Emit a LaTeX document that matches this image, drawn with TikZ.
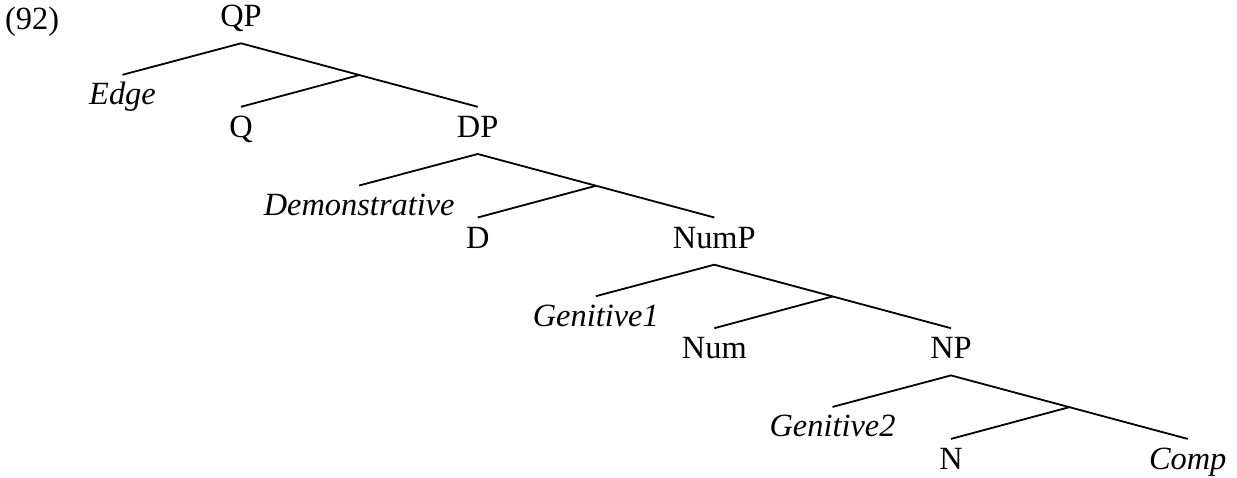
\documentclass[tikz,border=0pt]{standalone}
\usepackage{fontspec}
\setmainfont{Liberation Serif}
\usetikzlibrary{calc}
\begin{document}
\begin{tikzpicture}[x=1pt,y=-1pt,
  branch/.style={line width=1.8pt},
  lbl/.style={anchor=base,inner sep=0pt,font=\fontsize{32.4}{38}\selectfont},
  ilbl/.style={lbl,font=\fontsize{32.4}{38}\selectfont\itshape}]
\useasboundingbox (0,0) rectangle (1237,477);

% example number
\node[lbl,anchor=base west] (exnum) at (5,29) {(92)};

% one binary-branching layer per phrase: specifier on the left,
% head and complement under the intermediate branch point
\foreach \n/\x/\y/\phr/\spec/\head in {
    q/241/43.3/QP/Edge/Q,
    d/477.7/154/DP/Demonstrative/D,
    num/714.3/264.7/NumP/Genitive1/Num,
    n/951/375.4/NP/Genitive2/N} {
  \coordinate (\n-top)  at (\x,\y);
  \coordinate (\n-spec) at (\x-118.5,\y+31.5);
  \coordinate (\n-comp) at (\x+236.7,\y+63.5);
  \coordinate (\n-bar)  at (\x+118.35,\y+31.75);
  \coordinate (\n-head) at (\x,\y+63.5);
  \draw[branch] (\n-spec) -- (\n-top) -- (\n-comp);
  \draw[branch] (\n-bar) -- (\n-head);
  \node[lbl]  (\n-phrase) at ($(\n-top)+(0,-16.5)$) {\phr};
  \node[ilbl] (\n-speclbl) at ($(\n-spec)+(0,30)$) {\spec};
  \node[lbl]  (\n-headlbl) at ($(\n-head)+(0,30.5)$) {\head};
}

% lowest complement
\node[ilbl] (complbl) at ($(n-comp)+(0,30.5)$) {Comp};
\end{tikzpicture}
\end{document}
